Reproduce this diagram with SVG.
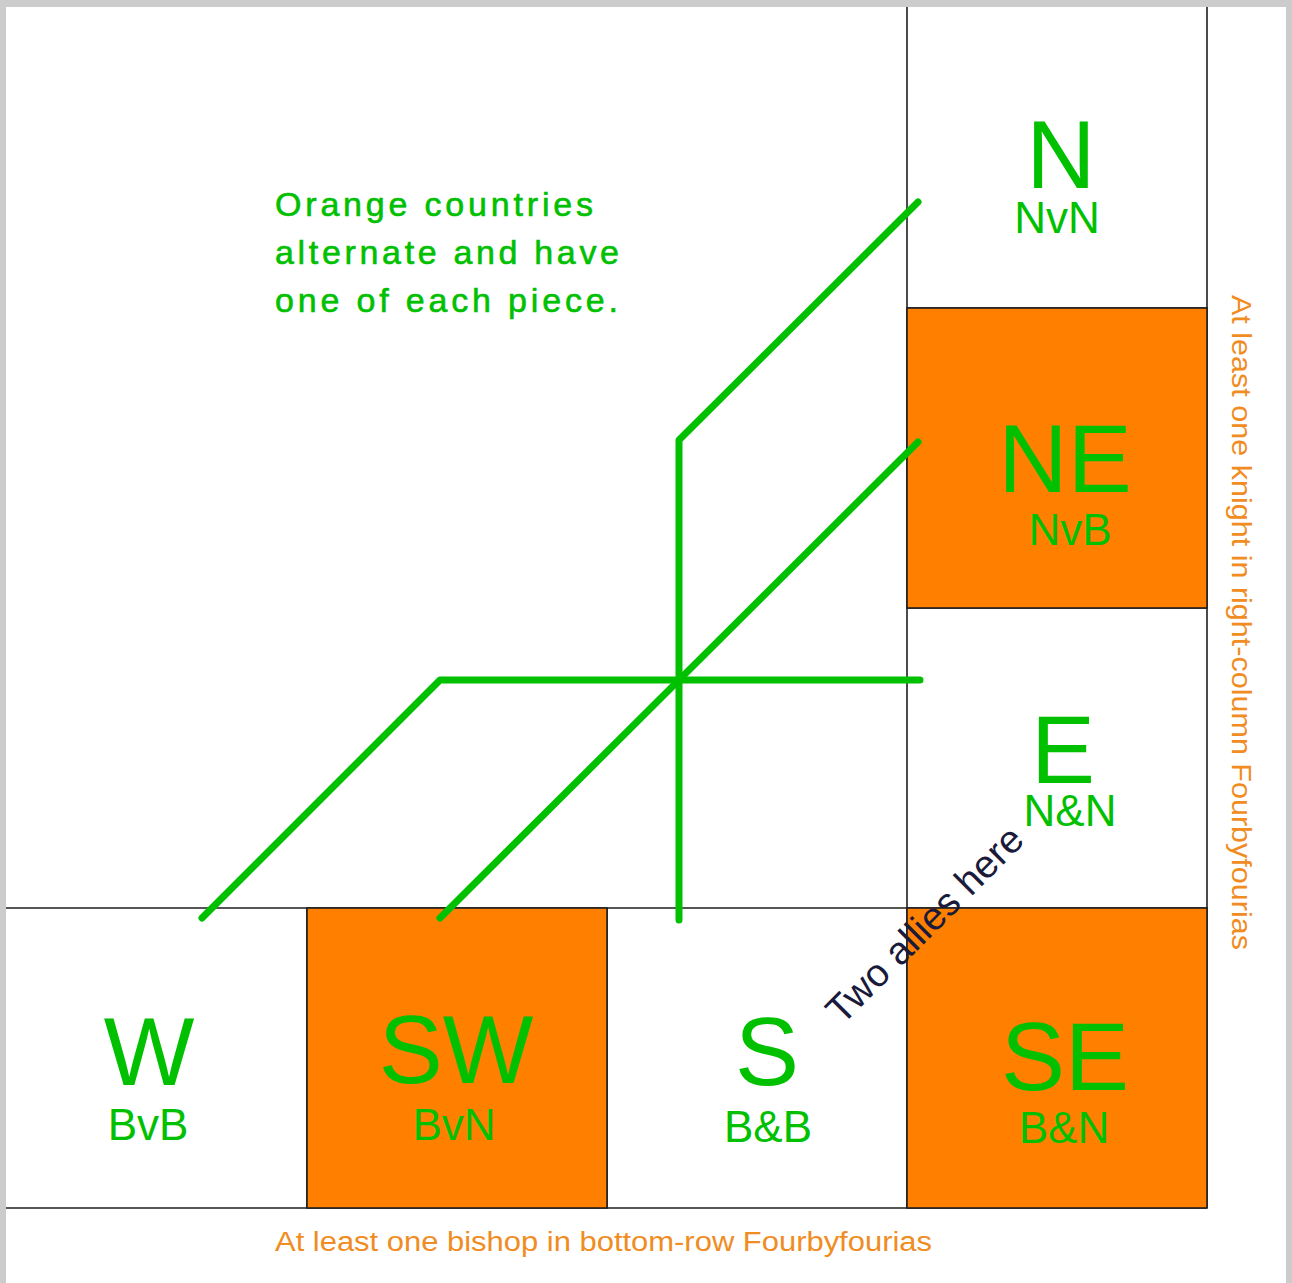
<svg xmlns="http://www.w3.org/2000/svg" width="1292" height="1283" viewBox="0 0 1292 1283">
<style>
.frame{fill:#cccccc}
.cell{stroke:#1e1e1e;stroke-width:1.6}
.white{fill:#ffffff}
.orange{fill:#ff8000}
.grid{stroke:#1e1e1e;stroke-width:1.6;fill:none}
.big{font-family:"Liberation Sans",Arial,sans-serif;font-size:96px;fill:#00c000;text-anchor:middle}
.sub{font-family:"Liberation Sans",Arial,sans-serif;font-size:44px;fill:#00c000;text-anchor:middle}
.note{font-family:"Liberation Sans",Arial,sans-serif;font-size:34px;fill:#00c000;stroke:#00c000;stroke-width:0.6}
.olabel{font-family:"Liberation Sans",Arial,sans-serif;font-size:27px;fill:#f08c22}
.allies{font-family:"Liberation Sans",Arial,sans-serif;font-size:39px;fill:#1a1a3a;text-anchor:middle}
.conn{stroke:#00c000;stroke-width:7;fill:none;stroke-linecap:round;stroke-linejoin:round}
</style>
<rect x="0" y="0" width="1292" height="1283" fill="#ffffff"/>
<rect class="frame" x="0" y="0" width="1292" height="7"/>
<rect class="frame" x="0" y="0" width="6" height="1283"/>
<rect class="frame" x="1286" y="0" width="6" height="1283"/>

<g id="grid">
<line class="grid" x1="907" y1="7" x2="907" y2="1208"/>
<line class="grid" x1="1207" y1="7" x2="1207" y2="1208"/>
<line class="grid" x1="6" y1="908" x2="1207" y2="908"/>
<line class="grid" x1="6" y1="1208" x2="1207" y2="1208"/>
<line class="grid" x1="907" y1="308" x2="1207" y2="308"/>
<line class="grid" x1="907" y1="608" x2="1207" y2="608"/>
<line class="grid" x1="307" y1="908" x2="307" y2="1208"/>
<line class="grid" x1="607" y1="908" x2="607" y2="1208"/>
</g>

<g id="node-N">
<text class="big" x="1061" y="188">N</text>
<text class="sub" x="1057" y="233">NvN</text>
</g>
<g id="node-NE">
<rect class="cell orange" x="907" y="308" width="300" height="300"/>
<text class="big" x="1065" y="492">NE</text>
<text class="sub" x="1070" y="545">NvB</text>
</g>
<g id="node-E">
<text class="big" x="1063" y="783">E</text>
<text class="sub" x="1070" y="826">N&amp;N</text>
</g>
<g id="node-SE">
<rect class="cell orange" x="907" y="908" width="300" height="300"/>
<text class="big" x="1065" y="1090">SE</text>
<text class="sub" x="1064" y="1143">B&amp;N</text>
</g>
<g id="node-S">
<text class="big" x="767" y="1085">S</text>
<text class="sub" x="768" y="1142">B&amp;B</text>
</g>
<g id="node-SW">
<rect class="cell orange" x="307" y="908" width="300" height="300"/>
<text class="big" x="456" y="1083">SW</text>
<text class="sub" x="454" y="1140">BvN</text>
</g>
<g id="node-W">
<text class="big" x="149" y="1085">W</text>
<text class="sub" x="148" y="1140">BvB</text>
</g>

<g id="connectors">
<polyline class="conn" points="918,202 679,440 679,920"/>
<polyline class="conn" points="918,442 440,918"/>
<polyline class="conn" points="920,680 440,680 202,918"/>
</g>

<g id="notes">
<text class="note" x="275" y="216" textLength="318" lengthAdjust="spacing">Orange countries</text>
<text class="note" x="275" y="264" textLength="344" lengthAdjust="spacing">alternate and have</text>
<text class="note" x="275" y="312" textLength="343" lengthAdjust="spacing">one of each piece.</text>
<text class="olabel" x="275" y="1251" textLength="657" lengthAdjust="spacingAndGlyphs">At least one bishop in bottom-row Fourbyfourias</text>
<text class="olabel" transform="translate(1232,295) rotate(90)" x="0" y="0" textLength="655" lengthAdjust="spacingAndGlyphs">At least one knight in right-column Fourbyfourias</text>
<text class="allies" transform="translate(934,934) rotate(-45)" x="0" y="0">Two allies here</text>
</g>
</svg>
